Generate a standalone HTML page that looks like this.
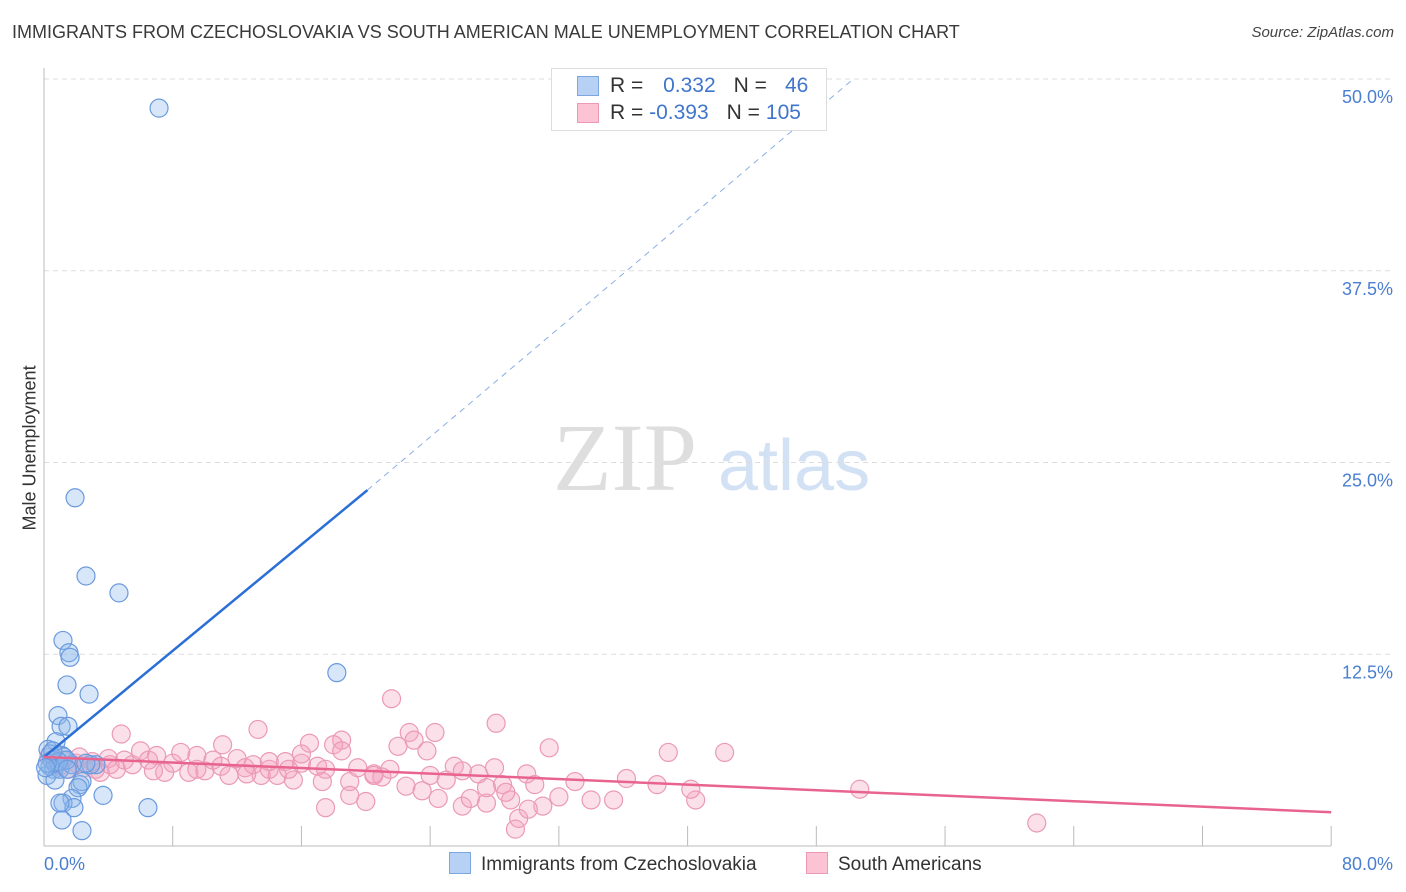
<!DOCTYPE html>
<html><head><meta charset="utf-8"><style>
body{margin:0;background:#fff;font-family:"Liberation Sans",sans-serif}
#wrap{position:relative;width:1406px;height:892px;overflow:hidden}
.t{position:absolute;white-space:nowrap}
</style></head><body>
<div id="wrap">
<div class="t" style="left:12px;top:22px;font-size:18px;color:#3a3a3a">IMMIGRANTS FROM CZECHOSLOVAKIA VS SOUTH AMERICAN MALE UNEMPLOYMENT CORRELATION CHART</div>
<div class="t" style="right:12px;top:24px;font-size:15px;color:#444;font-style:italic">Source: ZipAtlas.com</div>
<div class="t" style="left:-45px;top:445px;font-size:18px;color:#333;transform:rotate(-90deg);width:150px;text-align:center">Male Unemployment</div>
<svg id="svg" width="1406" height="892" style="position:absolute;left:0;top:0"></svg>
</div>
<script>
const xTicks=[0,80];
const yTicks=[12.5,25,37.5,50];
const blueX=[7.15,1.93,2.61,4.66,1.18,1.55,1.62,1.43,2.8,18.2,0.87,1.06,1.49,0.75,1.12,1.24,0.25,0.5,0.62,0.37,0.19,0.99,0.68,1.74,2.24,2.36,2.11,1.74,1.18,1.86,0.99,3.67,1.12,2.36,6.46,3.23,0.7,1.4,0.4,0.9,0.2,0.55,2.9,2.6,1.45,0.1];
const blueY=[48.1,22.7,17.6,16.5,13.4,12.6,12.3,10.5,9.9,11.3,8.5,7.8,7.8,6.8,5.9,5.8,6.3,5.6,5.0,5.2,4.6,5.0,4.3,5.3,4.0,4.2,3.8,3.1,2.8,2.5,2.8,3.3,1.7,1.0,2.5,5.3,5.4,5.6,6.0,5.5,5.4,6.2,5.3,5.4,5.0,5.1];
const pinkX=[21.6,61.7,50.7,42.3,38.8,40.5,35.4,38.1,36.2,31.4,28.1,24.3,22.7,17.5,29.3,4.8,13.3,11.1,18.5,0.5,1,1.5,2,2.5,3,3.5,4,4.5,5,5.5,6,6.5,7,7.5,8,8.5,9,9.5,10,10.5,11,11.5,12,12.5,13,13.5,14,14.5,15,15.5,16,16.5,17,17.5,18,18.5,19,19.5,20,20.5,21,21.5,22,22.5,23,23.5,24,24.5,25,25.5,26,26.5,27,27.5,28,28.5,29,29.5,30,30.5,31,32,33,34,26,27.5,19,20.5,16,14,9.5,6.8,3.2,1.2,0.3,0.8,2.2,4.1,12.6,15.2,17.3,23.8,28.7,30.1,40.2];
const pinkY=[9.6,1.5,3.7,6.1,6.1,3.0,3.0,4.0,4.4,6.4,8.0,7.4,7.4,2.5,1.1,7.3,7.6,6.6,6.9,5.6,5.2,5.0,5.4,5.1,5.5,4.8,5.7,5.0,5.6,5.3,6.2,5.6,5.9,4.8,5.4,6.1,4.8,5.0,4.9,5.6,5.2,4.6,5.7,5.1,5.3,4.6,5.0,4.6,5.5,4.3,5.4,6.7,5.2,5.0,6.6,6.2,4.2,5.1,2.9,4.7,4.5,5.0,6.5,3.9,6.9,3.6,4.6,3.1,4.3,5.2,2.6,3.1,4.7,2.8,5.1,4.0,3.0,1.8,4.7,4.0,2.6,3.2,4.2,3.0,4.9,3.8,3.3,4.6,6.0,5.5,5.9,4.9,5.0,5.6,5.8,5.3,5.8,5.3,4.7,5.0,4.2,6.2,3.5,2.4,3.7];
const blueLine=[0,5.8,20.1,23.2,50.3,50];
const pinkLine=[0,5.8,80,2.2];
const svg=document.getElementById('svg');const NS='http://www.w3.org/2000/svg';
const X=v=>44+v*16.09, Y=v=>846-v*15.34;
function mk(t,a,p){const e=document.createElementNS(NS,t);for(const k in a)e.setAttribute(k,a[k]);(p||svg).appendChild(e);return e;}
const wm=mk('text',{x:553,y:490,'text-anchor':'start','font-size':96,fill:'#dedede','font-family':'Liberation Serif'});wm.textContent='ZIP';


const wm2=mk('text',{x:718,y:490,'text-anchor':'start','font-size':72,fill:'#d3e1f4','font-family':'Liberation Sans'});wm2.textContent='atlas';


yTicks.forEach(v=>{
const l=mk('line',{x1:44,x2:1394,y1:Y(v),y2:Y(v),stroke:'#ddd','stroke-dasharray':'5,4'});


const t=mk('text',{x:1393,y:Y(v)+24,'text-anchor':'end','font-size':18,fill:'#4a7fd0','font-family':'Liberation Sans'});t.textContent=v.toFixed(1)+'%';


});
for(let i=0;i<=10;i++){const l=mk('line',{x1:X(i*8),x2:X(i*8),y1:826,y2:846,stroke:'#bbb'});

}
mk('line',{x1:44,x2:44,y1:68,y2:846,stroke:'#bbb'});
mk('line',{x1:44,x2:1331,y1:846,y2:846,stroke:'#bbb'});
xTicks.forEach((v,i)=>{const t=mk('text',{x:i?1393:44,y:870,'text-anchor':i?'end':'start','font-size':18,fill:'#4a7fd0','font-family':'Liberation Sans'});t.textContent=v.toFixed(1)+'%';

});
pinkX.forEach((x,i)=>{const c=mk('circle',{cx:X(x),cy:Y(pinkY[i]),r:9,fill:'rgba(244,164,192,0.35)',stroke:'#eb9ab6','stroke-width':1.2});

});
blueX.forEach((x,i)=>{const c=mk('circle',{cx:X(x),cy:Y(blueY[i]),r:9,fill:'rgba(140,182,236,0.35)',stroke:'#6a9ade','stroke-width':1.2});

});
const bl=mk('line',{x1:X(blueLine[0]),y1:Y(blueLine[1]),x2:X(blueLine[2]),y2:Y(blueLine[3]),stroke:'#2b6fd6','stroke-width':2.5});


const bd=mk('line',{x1:X(blueLine[2]),y1:Y(blueLine[3]),x2:X(blueLine[4]),y2:Y(blueLine[5]),stroke:'#8aaee6','stroke-width':1,'stroke-dasharray':'6,5'});


const pl=mk('line',{x1:X(pinkLine[0]),y1:Y(pinkLine[1]),x2:X(pinkLine[2]),y2:Y(pinkLine[3]),stroke:'#e8648e','stroke-width':2.5});


</script>
<div class="t" style="left:551px;top:68px;width:274px;height:61px;border:1px solid #ddd;background:#fff;font-size:21px;color:#333">
<div style="position:absolute;left:25px;top:7px;width:20px;height:18px;background:#b7d1f4;border:1px solid #7ea6e0"></div>
<div style="position:absolute;left:25px;top:34px;width:20px;height:18px;background:#fbc3d4;border:1px solid #ec9ab4"></div>
<div style="position:absolute;left:58px;top:5px">R = <span style="color:#3f76cc;margin-left:14px">0.332</span><span style="margin-left:18px">N =</span><span style="color:#3f76cc;margin-left:18px">46</span></div>
<div style="position:absolute;left:58px;top:32px">R = <span style="color:#3f76cc">-0.393</span><span style="margin-left:18px">N =</span><span style="color:#3f76cc;margin-left:6px">105</span></div>
</div>
<div class="t" style="left:449px;top:852px;font-size:19px;color:#333"><span style="display:inline-block;width:20px;height:20px;background:#b7d1f4;border:1px solid #7ea6e0;vertical-align:-4px;margin-right:10px"></span>Immigrants from Czechoslovakia</div>
<div class="t" style="left:806px;top:852px;font-size:19px;color:#333"><span style="display:inline-block;width:20px;height:20px;background:#fbc3d4;border:1px solid #ec9ab4;vertical-align:-4px;margin-right:10px"></span>South Americans</div>
</body></html>
